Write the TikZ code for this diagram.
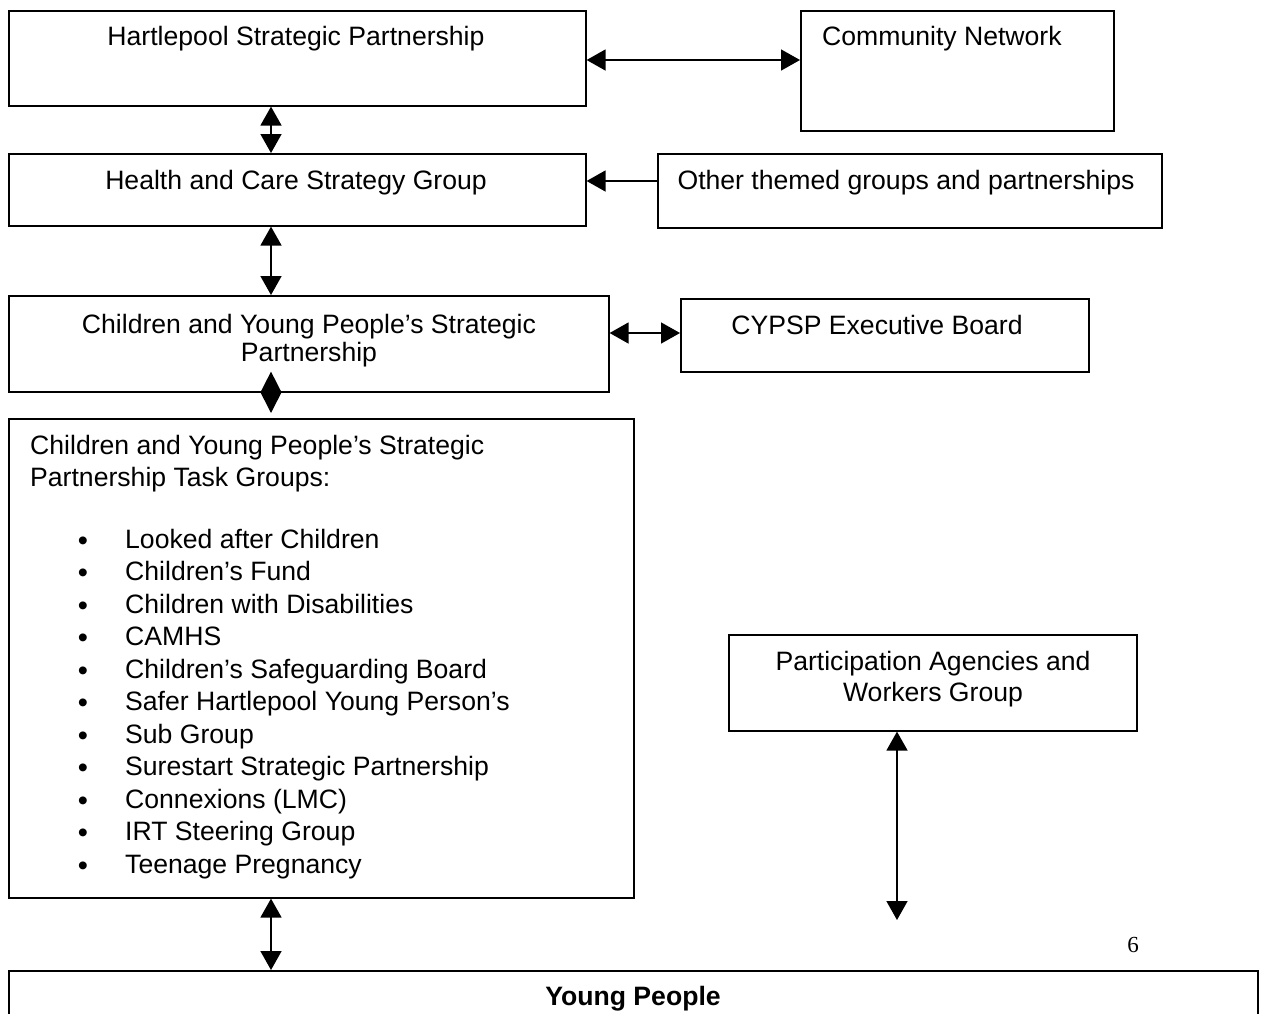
\documentclass[tikz,border=0pt]{standalone}
\usepackage{fontspec}
\setmainfont{Liberation Sans}
\newfontfamily\numfont{Liberation Serif}
\usetikzlibrary{arrows.meta,calc}
\begin{document}
\begin{tikzpicture}[x=1pt,y=1pt,
  box/.style={draw, line width=1.6pt, anchor=north west, inner sep=0pt},
  lbl/.style={anchor=base, inner sep=0pt, font=\fontsize{26.6}{32.5}\selectfont},
  lblw/.style={anchor=base west, inner sep=0pt, font=\fontsize{26.6}{32.5}\selectfont},
  bulletstyle/.style={anchor=base, inner sep=0pt, font=\fontsize{29}{32.5}\selectfont},
  dbl/.style={line width=1.6pt, {Triangle[length=19pt,width=21pt]}-{Triangle[length=19pt,width=21pt]}},
  sgl/.style={line width=1.6pt, -{Triangle[length=19pt,width=21pt]}}
]
\useasboundingbox (0,0) rectangle (1261,-1013);
\clip (0,0) rectangle (1261,-1013);
% boxes
\node[box, minimum width=577pt, minimum height=95pt] (hsp) at (8,-10) {};
\node[box, minimum width=313pt, minimum height=120pt] (cn) at (800,-10) {};
\node[box, minimum width=577pt, minimum height=72pt] (hcs) at (8,-153) {};
\node[box, minimum width=504pt, minimum height=74pt] (oth) at (657,-153) {};
\node[box, minimum width=600pt, minimum height=96pt] (cyp) at (8,-295) {};
\node[box, minimum width=408pt, minimum height=73pt] (exb) at (680,-298) {};
\node[box, minimum width=625pt, minimum height=479pt] (task) at (8,-418) {};
\node[box, minimum width=408pt, minimum height=96pt] (part) at (728,-634) {};
\node[box, minimum width=1249pt, minimum height=80pt] (yp) at (8,-970) {};
% labels
\node[lbl] (thsp) at (296,-45) {Hartlepool Strategic Partnership};
\node[lblw] (tcn) at (822,-45) {Community Network};
\node[lbl] (thcs) at (296,-189) {Health and Care Strategy Group};
\node[lbl] (toth) at (906,-189) {Other themed groups and partnerships};
\node[lbl] (tcyp1) at (309,-333) {Children and Young People’s Strategic};
\node[lbl] (tcyp2) at (309,-361) {Partnership};
\node[lbl] (texb) at (877,-334) {CYPSP Executive Board};
\node[lblw] (ttask1) at (30,-454) {Children and Young People’s Strategic};
\node[lblw] (ttask2) at (30,-486) {Partnership Task Groups:};
\foreach \t [count=\i from 0] in {Looked after Children, Children’s Fund, Children with Disabilities, CAMHS, Children’s Safeguarding Board, Safer Hartlepool Young Person’s, Sub Group, Surestart Strategic Partnership, Connexions (LMC), IRT Steering Group, Teenage Pregnancy}{
  \node[bulletstyle] (bul\i) at (83,{-550-32.5*\i}) {•};
  \node[lblw] (it\i) at (125,{-548-32.5*\i}) {\t};
}
\node[lbl] (tpart1) at (933,-670) {Participation Agencies and};
\node[lbl] (tpart2) at (933,-701) {Workers Group};
\node[anchor=center, inner sep=0pt, font=\fontsize{26.6}{32.5}\selectfont\bfseries] (typ) at (633,-999) {Young People};
\node[anchor=base, inner sep=0pt, font=\numfont\fontsize{23}{28}\selectfont] (pg) at (1133,-952) {6};
% connectors
\coordinate (xa) at (271,0);
\coordinate (pend) at (897,-920);
\draw[dbl] (hsp.east |- 0,-60) -- (cn.west |- 0,-60);
\draw[dbl] (hsp.south -| xa) -- (hcs.north -| xa);
\draw[sgl] (oth.west |- 0,-181) -- (hcs.east |- 0,-181);
\draw[dbl] (hcs.south -| xa) -- (cyp.north -| xa);
\draw[dbl] (cyp.east |- 0,-333) -- (exb.west |- 0,-333);
\draw[line width=1.6pt, {Triangle[length=21pt,width=21pt]}-{Triangle[length=21pt,width=21pt]}] ([yshift=21pt]cyp.south -| xa) -- ([yshift=5pt]task.north -| xa);
\draw[dbl] (task.south -| xa) -- (yp.north -| xa);
\draw[dbl] (part.south -| pend) -- (pend);
\end{tikzpicture}
\end{document}
